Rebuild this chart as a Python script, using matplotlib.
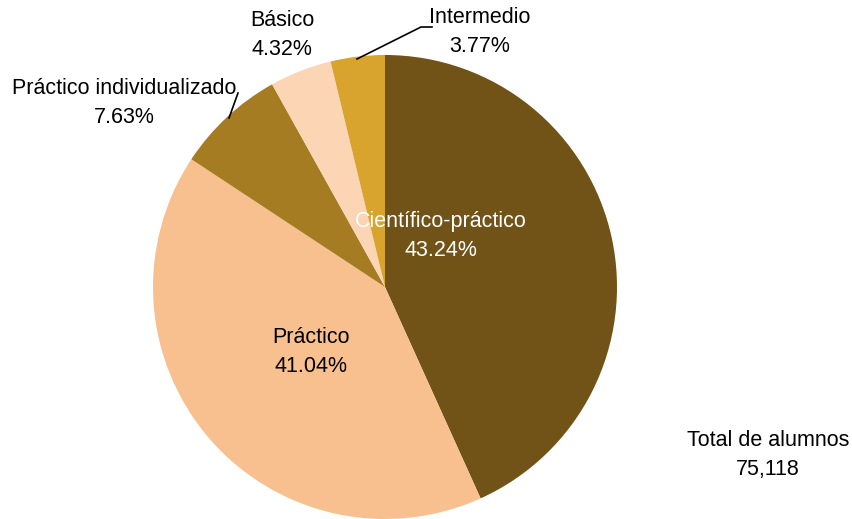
import matplotlib
matplotlib.use("Agg")
import matplotlib.pyplot as plt

categories = ["Científico-práctico", "Práctico", "Práctico individualizado", "Básico", "Intermedio"]
shares = [43.24, 41.04, 7.63, 4.32, 3.77]
colors = ["#715217", "#F8C08F", "#A67C22", "#FCD5B4", "#D9A42E"]
total_students = "75,118"

plt.rcParams["font.family"] = ["Liberation Sans", "DejaVu Sans"]

W, H = 853, 519
fig = plt.figure(figsize=(W / 100, H / 100), dpi=100)
cx, cy, r = 385, 287, 232
ax = fig.add_axes([(cx - r) / W, (H - cy - r) / H, 2 * r / W, 2 * r / H])
ax.pie(shares, colors=colors, startangle=90, counterclock=False, radius=1,
       wedgeprops=dict(linewidth=0))
ax.set_xlim(-1, 1)
ax.set_ylim(-1, 1)
ax.set_aspect("equal")
ax.axis("off")

fs = 15.5
ls = 1.45
label_pos = [(0.241, 0.220), (-0.319, -0.280), (-1.125, 0.793), (-0.444, 1.086), (0.409, 1.099)]
text_colors = ["white", "black", "black", "black", "black"]
for name, val, (x, y), tc in zip(categories, shares, label_pos, text_colors):
    ax.text(x, y, f"{name}\n{val:.2f}%", ha="center", va="center", fontsize=fs,
            color=tc, linespacing=ls, clip_on=False)

# leader lines for the small slices
def px(p):
    return ((p[0] - cx) / r, (cy - p[1]) / r)

for pts in [[(357, 59), (421, 27), (432, 27)], [(229, 118), (238, 93)]]:
    xs, ys = zip(*[px(p) for p in pts])
    ax.plot(xs, ys, color="black", lw=1.2, clip_on=False)

ax.text(1.651, -0.724, f"Total de alumnos\n{total_students}", ha="center", va="center",
        fontsize=fs, color="black", linespacing=ls, clip_on=False)

fig.savefig("out.png", dpi=100, facecolor="white")
